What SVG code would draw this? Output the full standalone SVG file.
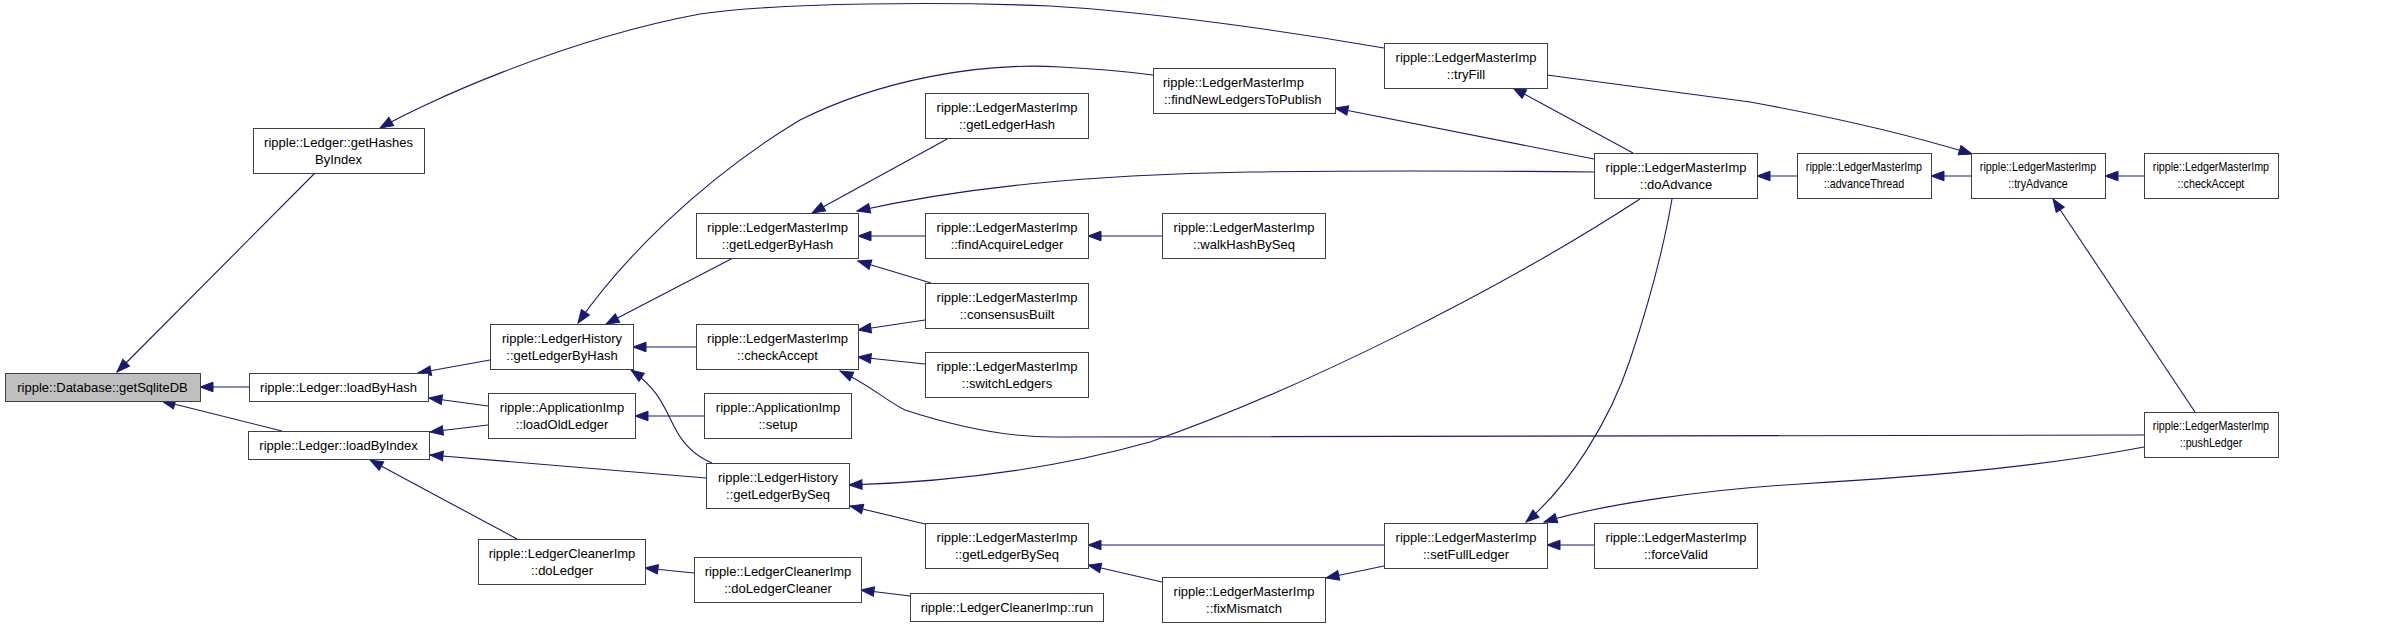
<svg xmlns="http://www.w3.org/2000/svg" width="2395" height="628" viewBox="0 0 2395 628">
<style>
.n rect{fill:#ffffff;stroke:#404040;stroke-width:1}
.n.hl rect{fill:#bfbfbf}
text{font-family:"Liberation Sans",Arial,Helvetica,sans-serif;font-size:13px;fill:#000000;text-anchor:middle}
#edges path{fill:none;stroke:#191970;stroke-width:1.1;marker-start:url(#ah)}
</style>
<defs>
<marker id="ah" markerUnits="userSpaceOnUse" markerWidth="16" markerHeight="12" viewBox="-14 -6 16 12" refX="0" refY="0" orient="auto-start-reverse">
<path d="M0,0 L-13,-4.8 L-13,4.8 z" fill="#191970" stroke="#191970" stroke-width="1"/>
</marker>
</defs>
<rect width="2395" height="628" fill="#ffffff"/>
<g id="edges">
<path d="M200,387 L249,387"/>
<path d="M162,401 L282,431"/>
<path d="M117,372 L315,173"/>
<path d="M380,128 C420,105 560,40 700,14 C780,2 950,2 1050,6 C1150,12 1280,30 1384,48"/>
<path d="M418,373 L490,360"/>
<path d="M429,398 L488,406"/>
<path d="M430,432 L488,425"/>
<path d="M430,455 L706,478"/>
<path d="M370,460 L517,539"/>
<path d="M606,324 L733,258"/>
<path d="M578,323 C620,262 700,180 800,120 C880,80 980,62 1060,67 C1100,69 1130,72 1153,75"/>
<path d="M633,347 L696,347"/>
<path d="M631,370 C660,390 665,410 675,428 C685,448 700,458 712,463"/>
<path d="M635,416 L704,416"/>
<path d="M645,568 L694,573"/>
<path d="M861,590 L910,596"/>
<path d="M812,213 L949,138"/>
<path d="M857,211 C960,188 1080,175 1250,172 C1400,170 1500,171 1594,172"/>
<path d="M858,236 L925,236"/>
<path d="M858,261 L931,283"/>
<path d="M858,330 L925,320"/>
<path d="M858,357 L925,364"/>
<path d="M840,371 C870,385 885,400 905,410 C960,428 1010,438 1060,437 L2144,435"/>
<path d="M1088,236 L1162,236"/>
<path d="M1335,108 L1594,159"/>
<path d="M1513,88 L1633,153"/>
<path d="M1757,176 L1797,176"/>
<path d="M1931,176 L1971,176"/>
<path d="M2105,176 L2144,176"/>
<path d="M2053,199 L2195,412"/>
<path d="M1972,154 C1920,138 1850,120 1750,102 L1547,75"/>
<path d="M849,485 C950,482 1050,470 1150,442 C1300,390 1500,290 1640,199"/>
<path d="M1088,545 L1384,545"/>
<path d="M1088,565 L1162,582"/>
<path d="M1326,578 L1384,566"/>
<path d="M1547,545 L1594,545"/>
<path d="M1526,522 C1570,485 1610,420 1630,360 C1650,300 1665,240 1672,199"/>
<path d="M1544,522 C1600,505 1700,490 1800,484 C1950,475 2050,465 2144,447"/>
<path d="M850,506 L925,524"/>
</g>
<g id="n-getSqliteDB" class="n hl"><rect x="5.5" y="373.5" width="195" height="28"/><text x="102.5" y="391.5">ripple::Database::getSqliteDB</text></g>
<g id="n-getHashesByIndex" class="n"><rect x="253.5" y="128.5" width="171" height="45"/><text x="338.5" y="146.5">ripple::Ledger::getHashes</text><text x="338.5" y="163.5">ByIndex</text></g>
<g id="n-loadByHash" class="n"><rect x="249.5" y="373.5" width="179" height="28"/><text x="338.5" y="391.5">ripple::Ledger::loadByHash</text></g>
<g id="n-loadByIndex" class="n"><rect x="248.5" y="431.5" width="181" height="28"/><text x="338.5" y="449.5">ripple::Ledger::loadByIndex</text></g>
<g id="n-LH-getLedgerByHash" class="n"><rect x="490.5" y="324.5" width="143" height="45"/><text x="562" y="342.5">ripple::LedgerHistory</text><text x="562" y="359.5">::getLedgerByHash</text></g>
<g id="n-loadOldLedger" class="n"><rect x="488.5" y="393.5" width="147" height="45"/><text x="562" y="411.5">ripple::ApplicationImp</text><text x="562" y="428.5">::loadOldLedger</text></g>
<g id="n-doLedger" class="n"><rect x="478.5" y="539.5" width="167" height="45"/><text x="562" y="557.5">ripple::LedgerCleanerImp</text><text x="562" y="574.5">::doLedger</text></g>
<g id="n-LMI-getLedgerByHash" class="n"><rect x="696.5" y="213.5" width="162" height="45"/><text x="777.5" y="231.5">ripple::LedgerMasterImp</text><text x="777.5" y="248.5">::getLedgerByHash</text></g>
<g id="n-LMI-checkAccept" class="n"><rect x="696.5" y="324.5" width="162" height="45"/><text x="777.5" y="342.5">ripple::LedgerMasterImp</text><text x="777.5" y="359.5">::checkAccept</text></g>
<g id="n-setup" class="n"><rect x="704.5" y="393.5" width="147" height="45"/><text x="778" y="411.5">ripple::ApplicationImp</text><text x="778" y="428.5">::setup</text></g>
<g id="n-LH-getLedgerBySeq" class="n"><rect x="706.5" y="463.5" width="143" height="45"/><text x="778" y="481.5">ripple::LedgerHistory</text><text x="778" y="498.5">::getLedgerBySeq</text></g>
<g id="n-doLedgerCleaner" class="n"><rect x="694.5" y="557.5" width="167" height="45"/><text x="778" y="575.5">ripple::LedgerCleanerImp</text><text x="778" y="592.5">::doLedgerCleaner</text></g>
<g id="n-getLedgerHash" class="n"><rect x="925.5" y="93.5" width="163" height="45"/><text x="1007" y="111.5">ripple::LedgerMasterImp</text><text x="1007" y="128.5">::getLedgerHash</text></g>
<g id="n-findAcquireLedger" class="n"><rect x="925.5" y="213.5" width="163" height="45"/><text x="1007" y="231.5">ripple::LedgerMasterImp</text><text x="1007" y="248.5">::findAcquireLedger</text></g>
<g id="n-consensusBuilt" class="n"><rect x="925.5" y="283.5" width="163" height="45"/><text x="1007" y="301.5">ripple::LedgerMasterImp</text><text x="1007" y="318.5">::consensusBuilt</text></g>
<g id="n-switchLedgers" class="n"><rect x="925.5" y="352.5" width="163" height="45"/><text x="1007" y="370.5">ripple::LedgerMasterImp</text><text x="1007" y="387.5">::switchLedgers</text></g>
<g id="n-LMI-getLedgerBySeq" class="n"><rect x="925.5" y="523.5" width="163" height="45"/><text x="1007" y="541.5">ripple::LedgerMasterImp</text><text x="1007" y="558.5">::getLedgerBySeq</text></g>
<g id="n-run" class="n"><rect x="910.5" y="593.5" width="193" height="28"/><text x="1007" y="611.5">ripple::LedgerCleanerImp::run</text></g>
<g id="n-findNewLedgersToPublish" class="n"><rect x="1153.5" y="68.5" width="182" height="45"/><text x="1163" y="86.5" style="text-anchor:start">ripple::LedgerMasterImp</text><text x="1164" y="103.5" style="text-anchor:start">::findNewLedgersToPublish</text></g>
<g id="n-walkHashBySeq" class="n"><rect x="1162.5" y="213.5" width="163" height="45"/><text x="1244" y="231.5">ripple::LedgerMasterImp</text><text x="1244" y="248.5">::walkHashBySeq</text></g>
<g id="n-fixMismatch" class="n"><rect x="1162.5" y="577.5" width="163" height="45"/><text x="1244" y="595.5">ripple::LedgerMasterImp</text><text x="1244" y="612.5">::fixMismatch</text></g>
<g id="n-tryFill" class="n"><rect x="1384.5" y="43.5" width="163" height="45"/><text x="1466" y="61.5">ripple::LedgerMasterImp</text><text x="1466" y="78.5">::tryFill</text></g>
<g id="n-setFullLedger" class="n"><rect x="1384.5" y="523.5" width="163" height="45"/><text x="1466" y="541.5">ripple::LedgerMasterImp</text><text x="1466" y="558.5">::setFullLedger</text></g>
<g id="n-doAdvance" class="n"><rect x="1594.5" y="153.5" width="163" height="45"/><text x="1676" y="171.5">ripple::LedgerMasterImp</text><text x="1676" y="188.5">::doAdvance</text></g>
<g id="n-forceValid" class="n"><rect x="1594.5" y="523.5" width="163" height="45"/><text x="1676" y="541.5">ripple::LedgerMasterImp</text><text x="1676" y="558.5">::forceValid</text></g>
<g id="n-advanceThread" class="n"><rect x="1797.5" y="153.5" width="134" height="45"/><g transform="matrix(0.826,0,0,1,324.3,0)"><text x="1864" y="171.5">ripple::LedgerMasterImp</text><text x="1864" y="188.5">::advanceThread</text></g></g>
<g id="n-tryAdvance" class="n"><rect x="1971.5" y="153.5" width="134" height="45"/><g transform="matrix(0.826,0,0,1,354.6,0)"><text x="2038" y="171.5">ripple::LedgerMasterImp</text><text x="2038" y="188.5">::tryAdvance</text></g></g>
<g id="n-checkAccept" class="n"><rect x="2144.5" y="153.5" width="134" height="45"/><g transform="matrix(0.826,0,0,1,384.7,0)"><text x="2211" y="171.5">ripple::LedgerMasterImp</text><text x="2211" y="188.5">::checkAccept</text></g></g>
<g id="n-pushLedger" class="n"><rect x="2144.5" y="412.5" width="134" height="45"/><g transform="matrix(0.826,0,0,1,384.7,0)"><text x="2211" y="430.5">ripple::LedgerMasterImp</text><text x="2211" y="447.5">::pushLedger</text></g></g>
</svg>
